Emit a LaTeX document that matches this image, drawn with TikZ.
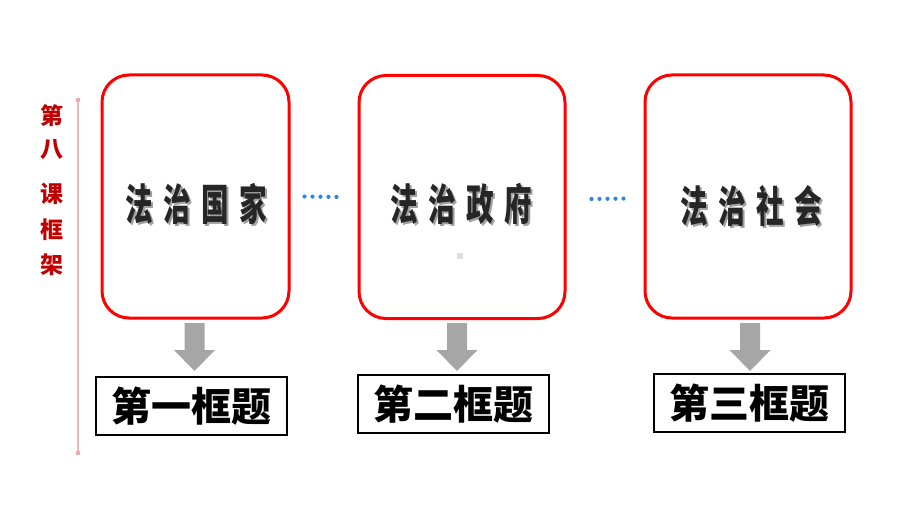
\documentclass[tikz,border=0pt]{standalone}
\usepackage{fontspec}
\newfontfamily\cjk{Noto Sans CJK SC}
\newfontfamily\cjkn{Noto Sans CJK SC}[FakeStretch=0.64]
\definecolor{boxred}{HTML}{FF0000}
\definecolor{dotblue}{HTML}{2E86DE}
\definecolor{arrgray}{HTML}{A6A6A6}
\definecolor{titlered}{HTML}{C00000}
\definecolor{linepink}{HTML}{F2B8B8}
\definecolor{txtdark}{HTML}{262626}
\definecolor{shadowgray}{HTML}{A0A0A0}
\newcommand{\cjkgap}{\kern10.5pt}
\newcommand{\shadowed}[1]{\makebox[0pt][l]{\kern1.8pt\raisebox{-1.8pt}{\color{shadowgray}#1}}#1}
\begin{document}
\begin{tikzpicture}[x=1pt,y=-1pt,
  redbox/.style={draw=boxred, line width=3pt, rounded corners=27pt, inner sep=0pt},
  framebox/.style={draw=black, line width=1.6pt, inner sep=0pt, minimum width=191pt, minimum height=58pt, font=\cjk\bfseries\fontsize{40}{40}\selectfont},
  bigtxt/.style={text=txtdark, font=\cjkn\bfseries\fontsize{43}{43}\selectfont, inner sep=0pt},
  dotline/.style={dotblue, line width=4.2pt, line cap=round, dash pattern=on 0pt off 8pt},
  blockarrow/.style={fill=arrgray, draw=none},
  sidetxt/.style={text=titlered, font=\cjk\bfseries\fontsize{23}{23}\selectfont, inner sep=0pt}
]
\useasboundingbox (0,0) rectangle (920,518);
% side line and title
\coordinate (lt) at (78,100);
\coordinate (lb) at (78,453);
\draw[linepink, line width=1.2pt] (lt) -- (lb);
\fill[linepink!90!red] (lt) circle (2.3pt) (lb) circle (2.3pt);
\node[sidetxt] (s1) at (52,116) {第};
\node[sidetxt] (s2) at (52,150) {八};
\node[sidetxt] (s3) at (52,194) {课};
\node[sidetxt] (s4) at (52,230) {框};
\node[sidetxt] (s5) at (52,265) {架};
% red boxes
\node[redbox, minimum width=187pt, minimum height=243pt] (b1) at (195.5,196.5) {};
\node[redbox, minimum width=206pt, minimum height=243pt] (b2) at (462,197) {};
\node[redbox, minimum width=206pt, minimum height=243pt] (b3) at (748,196.5) {};
% texts with shadow
\node[bigtxt] (t1) at (196,205) {\shadowed{法\cjkgap 治\cjkgap 国\cjkgap 家}};
\node[bigtxt] (t2) at (461,205) {\shadowed{法\cjkgap 治\cjkgap 政\cjkgap 府}};
\node[bigtxt] (t3) at (751,207) {\shadowed{法\cjkgap 治\cjkgap 社\cjkgap 会}};
\fill[black!13] (457,253) rectangle (463,259);
% dotted connectors
\coordinate (d1a) at ([xshift=14pt,yshift=0pt]b1.east);
\coordinate (d1b) at ([xshift=-16pt,yshift=0pt]b2.west);
\draw[dotline] (d1a) -- (d1b);
\coordinate (d2a) at ([xshift=25pt,yshift=-2pt]b2.east);
\coordinate (d2b) at ([xshift=-15pt,yshift=-2pt]b3.west);
\draw[dotline] (d2a) -- (d2b);
% framed titles
\node[framebox] (f1) at (191.5,406) {第一框题};
\node[framebox] (f2) at (453.5,404) {第二框题};
\node[framebox] (f3) at (749.5,403) {第三框题};
% block arrows
\foreach \cx in {194.5,457,750}{
  \path[blockarrow] (\cx-10,323) -- (\cx+10,323) -- (\cx+10,350) -- (\cx+20.5,350)
     -- (\cx,371) -- (\cx-20.5,350) -- (\cx-10,350) -- cycle;
}
\end{tikzpicture}
\end{document}
